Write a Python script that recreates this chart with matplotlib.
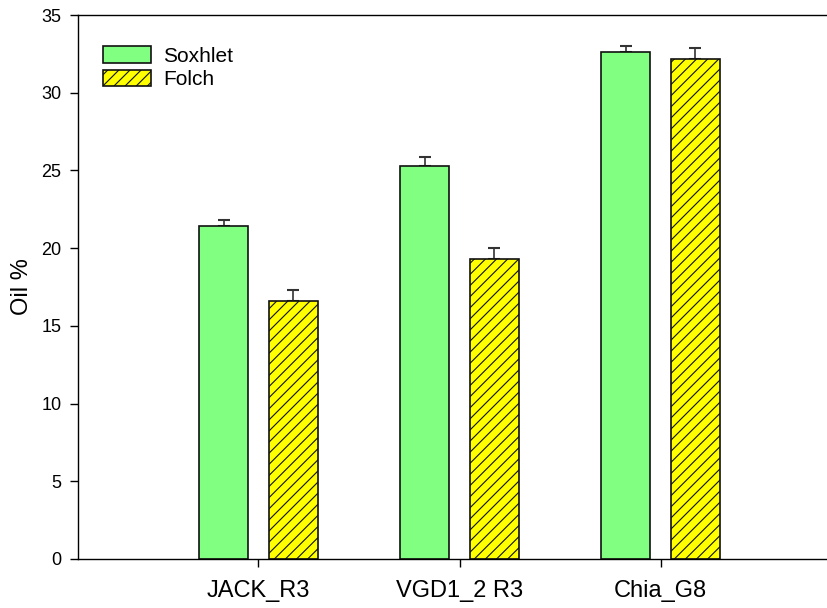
import matplotlib
matplotlib.use("Agg")
import matplotlib.pyplot as plt
import numpy as np

plt.rcParams['font.family'] = ['Liberation Sans', 'DejaVu Sans']
plt.rcParams['hatch.linewidth'] = 0.8
plt.rcParams['hatch.color'] = '#3a3a00'

samples = ["JACK_R3", "VGD1_2 R3", "Chia_G8"]
soxhlet = [21.4, 25.3, 32.6]
soxhlet_err = [0.4, 0.55, 0.4]
folch = [16.6, 19.3, 32.2]
folch_err = [0.7, 0.7, 0.7]
y_ticks = [0, 5, 10, 15, 20, 25, 30, 35]

fig = plt.figure(figsize=(8.28, 6.08), dpi=100)
ax = fig.add_axes([0.0942, 0.0806, 0.93, 0.8947])

x = np.arange(1, len(samples) + 1)
width = 0.244
off = 0.174

err_kw = dict(ecolor='#333333', elinewidth=1.2, capsize=4, capthick=1.5)
ax.bar(x - off, soxhlet, width, color='#80ff80', edgecolor='#111111',
       linewidth=1.2, label='Soxhlet', zorder=2)
ax.errorbar(x - off, soxhlet, yerr=[np.zeros(len(soxhlet)), soxhlet_err],
            fmt='none', zorder=1, **err_kw)
ax.bar(x + off, folch, width, color='#ffff00', edgecolor='#111111',
       linewidth=1.2, hatch='///', label='Folch', zorder=2)
ax.errorbar(x + off, folch, yerr=[np.zeros(len(folch)), folch_err],
            fmt='none', zorder=1, **err_kw)

ax.set_xlim(0.102, 0.102 + 3.831)
ax.set_ylim(0, 35)
ax.set_yticks(y_ticks)
ax.set_xticks(x)
ax.set_xticklabels(samples, fontsize=17)
ax.tick_params(axis='y', labelsize=13, direction='out', length=6, width=1, pad=6)
ax.tick_params(axis='x', direction='out', length=6, width=1, pad=9)
ax.spines['right'].set_visible(False)
for s in ['left', 'bottom', 'top']:
    ax.spines[s].set_linewidth(1)
ax.set_ylabel('Oil %', fontsize=17, labelpad=6)

leg = ax.legend(loc='upper left', bbox_to_anchor=(0.016, 0.966), frameon=False,
                fontsize=15, handlelength=2.3, handleheight=0.85,
                labelspacing=0.2, handletextpad=0.58, borderaxespad=0.2)

fig.savefig('out.png', dpi=100)
